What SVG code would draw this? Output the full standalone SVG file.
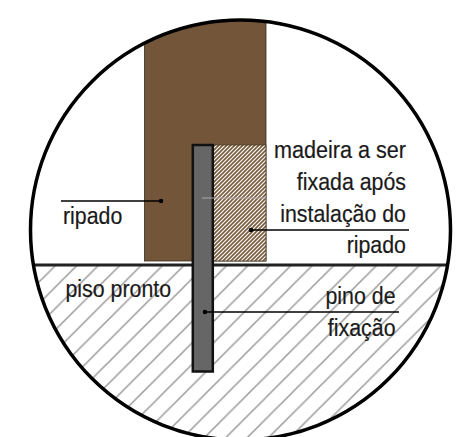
<svg xmlns="http://www.w3.org/2000/svg" width="467" height="437" viewBox="0 0 467 437">
<style>
.t{font-family:"Liberation Sans",Arial,sans-serif;font-size:24px;fill:#1a1a1a;stroke:#1a1a1a;stroke-width:.2}
.e{text-anchor:end}
.l{stroke:#000;stroke-width:1.3;fill:none}
</style>
<defs>
<pattern id="floor" width="21.4" height="21.4" patternUnits="userSpaceOnUse">
<path d="M-2 23.4L23.4-2M-6 6L6-6M15.4 27.4L27.4 15.4" stroke="#999" stroke-width="1.5" fill="none"/>
</pattern>
<pattern id="wood" width="4" height="4" patternUnits="userSpaceOnUse">
<rect width="4" height="4" fill="#fff"/>
<path d="M-1 5L5-1M-1 1L1-1M3 5L5 3" stroke="#7a5c3e" stroke-width="1.7" fill="none"/>
</pattern>
<clipPath id="c"><circle cx="240.500" cy="230" r="210"/></clipPath>
</defs>
<rect width="467" height="437" fill="#fff"/>
<g id="piso" clip-path="url(#c)">
<rect x="20" y="265" width="440" height="180" fill="url(#floor)"/>
<line x1="30" y1="265" x2="451" y2="265" stroke="#222" stroke-width="2.800"/>
</g>
<g id="ripado" clip-path="url(#c)">
<rect x="144.500" y="10" width="121.500" height="251" fill="#73563a" stroke="#3a2c1e" stroke-width="0.800"/>
</g>
<g id="madeira">
<rect x="213" y="145" width="53" height="116" fill="url(#wood)" stroke="#4a3a28" stroke-width="0.800"/>
</g>
<g id="pino">
<rect x="192.800" y="145" width="20" height="226.500" fill="#666" stroke="#111" stroke-width="2.500"/>
<line x1="202" y1="198" x2="266" y2="198" stroke="#aaa" stroke-width="1.200"/>
</g>
<g id="circulo"><circle cx="240.500" cy="230" r="210" fill="none" stroke="#000" stroke-width="3.500"/></g>
<g id="connectors">
<line class="l" x1="61" y1="201" x2="161" y2="201"/><circle cx="161" cy="201" r="2.300"/>
<line class="l" x1="251" y1="230" x2="409" y2="230"/><circle cx="251" cy="230" r="2.300"/>
<line class="l" x1="205" y1="312" x2="399" y2="312"/><circle cx="205" cy="312" r="2.300"/>
</g>
<g id="labels">
<text class="t" transform="translate(63 224) scale(.89 1)">ripado</text>
<text class="t" transform="translate(65.500 297) scale(.89 1)">piso pronto</text>
<text class="t e" transform="translate(406 158) scale(.9 1)">madeira a ser</text>
<text class="t e" transform="translate(406 190) scale(.89 1)">fixada após</text>
<text class="t e" transform="translate(406 222) scale(.89 1)">instalação do</text>
<text class="t e" transform="translate(406 253) scale(.89 1)">ripado</text>
<text class="t e" transform="translate(395.500 304) scale(.89 1)">pino de</text>
<text class="t e" transform="translate(395.500 336) scale(.89 1)">fixação</text>
</g>
</svg>
